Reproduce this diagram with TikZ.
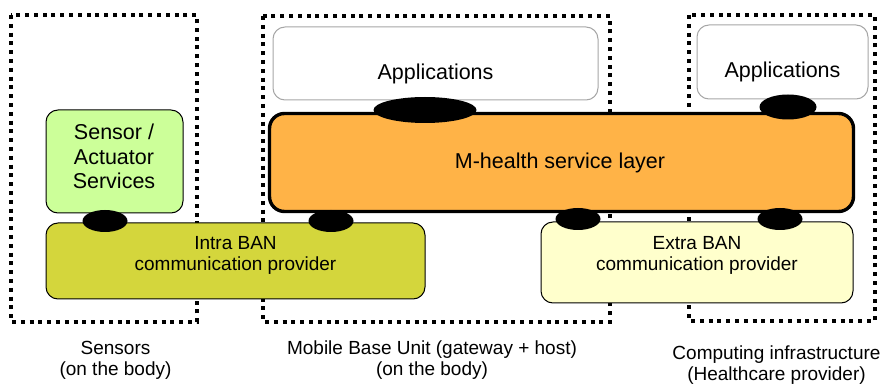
\documentclass[tikz,border=0pt]{standalone}
\usepackage{fontspec}
\setmainfont{Liberation Sans}
\usetikzlibrary{shapes.geometric}
\definecolor{sensorfill}{HTML}{CCFF99}
\definecolor{layerfill}{HTML}{FFB347}
\definecolor{intrafill}{HTML}{D4D63C}
\definecolor{extrafill}{HTML}{FFFFCC}
\definecolor{appline}{HTML}{A6A6A6}

\begin{document}
\begin{tikzpicture}[x=.5pt,y=-.5pt,
  big/.style={font=\fontsize{10.75}{12.25}\selectfont,align=center},
  small/.style={font=\fontsize{9.5}{10.5}\selectfont,align=center},
  frame/.style={line width=2pt,dash pattern=on 2pt off 2.4pt},
  box/.style={draw,rounded corners=6pt,line width=.5pt,inner sep=0pt},
  sap/.style={ellipse,fill=black,inner sep=0pt,minimum width=22.5pt,minimum height=11pt}]
  \useasboundingbox (0,0) rectangle (885,385);
  % dotted frames: sensors, base unit, back end
  \draw[frame] (11,15) rectangle (197,322);
  \draw[frame] (263,16) rectangle (610,322);
  \draw[frame] (689,15) rectangle (875,321);
  % boxes
  \node[box,fill=sensorfill,minimum width=68.5pt,minimum height=51.5pt] (sensor) at (114.5,161.5) {};
  \node[box,draw=appline,fill=white,minimum width=162.5pt,minimum height=36.5pt] (app1) at (435.5,63.5) {};
  \node[box,draw=appline,fill=white,minimum width=85.5pt,minimum height=37pt] (app2) at (782.5,62) {};
  \node[box,fill=layerfill,line width=1.7pt,rounded corners=7.5pt,minimum width=292pt,minimum height=49pt] (mhealth) at (561.5,162.5) {};
  \node[box,fill=intrafill,minimum width=189.5pt,minimum height=38pt] (intra) at (235.5,261) {};
  \node[box,fill=extrafill,minimum width=156pt,minimum height=40.5pt] (extra) at (697,262.5) {};
  % box texts
  \node[big] (sensortext) at (114,156.5) {Sensor /\\Actuator\\Services};
  \node[big] (app1text) at (435.5,74) {Applications};
  \node[big] (app2text) at (782.5,72) {Applications};
  \node[big] (mhealthtext) at (560,163) {M-health service layer};
  \node[small] (intratext) at (235.5,255) {Intra BAN\\communication provider};
  \node[small] (extratext) at (697,255) {Extra BAN\\communication provider};
  % access points between the layers
  \node[sap,minimum width=51.5pt,minimum height=13pt] (sap1) at (425,110) {};
  \node[sap,minimum width=28.5pt,minimum height=12.5pt] (sap2) at (788,107) {};
  \node[sap] (sap3) at (105,221) {};
  \node[sap] (sap4) at (331,221) {};
  \node[sap] (sap5) at (578,219) {};
  \node[sap] (sap6) at (780,219) {};
  % captions
  \node[small] (sensorcap) at (115.5,360) {Sensors\\(on the body)};
  \node[small] (mbucap) at (432,360) {Mobile Base Unit (gateway + host)\\(on the body)};
  \node[small] (infracap) at (776.5,365) {Computing infrastructure\\(Healthcare provider)};
\end{tikzpicture}
\end{document}
